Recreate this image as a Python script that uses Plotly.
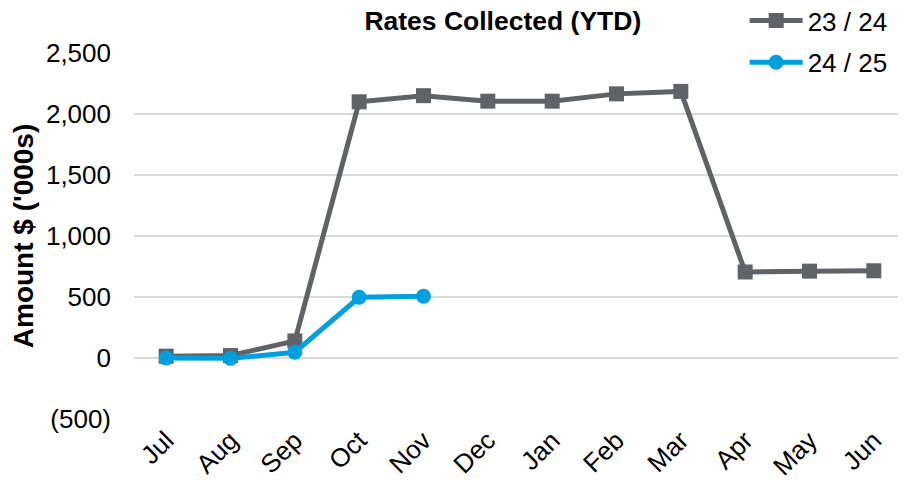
"""Rates Collected (YTD) line chart."""

import plotly.graph_objects as go

# Colours
GREY = "#5f6368"
BLUE = "#009fdf"
GRID = "#d9d9d9"
FONT = "Arial, Liberation Sans, sans-serif"

# Data
months = ["Jul", "Aug", "Sep", "Oct", "Nov", "Dec",
          "Jan", "Feb", "Mar", "Apr", "May", "Jun"]
fy_2324 = [15, 20, 140, 2100, 2150, 2105, 2105, 2165, 2185, 705, 712, 715]
fy_2425 = [0, -3, 47, 498, 506]

tick_vals = [-500, 0, 500, 1000, 1500, 2000, 2500]
tick_text = ["(500)", "0", "500", "1,000", "1,500", "2,000", "2,500"]

fig = go.Figure()

fig.add_trace(
    go.Scatter(
        x=months,
        y=fy_2324,
        name="23 / 24",
        legendgroup="a",
        mode="lines+markers",
        line=dict(color=GREY, width=5),
        marker=dict(symbol="square", size=15, color=GREY),
    )
)

fig.add_trace(
    go.Scatter(
        x=months[:len(fy_2425)],
        y=fy_2425,
        name="24 / 25",
        legendgroup="b",
        mode="lines+markers",
        line=dict(color=BLUE, width=5),
        marker=dict(symbol="circle", size=15, color=BLUE),
    )
)

# page body adds 8px, so the figure is 8px smaller and margins shifted
fig.update_layout(
    width=898,
    height=480,
    margin=dict(l=126, r=0, t=45, b=69, autoexpand=False),
    plot_bgcolor="white",
    paper_bgcolor="white",
    font=dict(family=FONT, size=26, color="black"),
    title=dict(
        text="<b>Rates Collected (YTD)</b>",
        font=dict(family=FONT, size=26.5, color="black"),
        x=0.551,
        xanchor="center",
        y=0.974,
        yanchor="middle",
    ),
    legend=dict(
        x=0.791,
        y=1.153,
        xanchor="left",
        yanchor="top",
        font=dict(family=FONT, size=26, color="black"),
        bgcolor="rgba(0,0,0,0)",
        traceorder="grouped",
        tracegroupgap=5,
        itemwidth=53,
    ),
    showlegend=True,
)

fig.update_xaxes(
    type="category",
    tickangle=-45,
    showgrid=False,
    showline=False,
    ticks="",
    tickfont=dict(family=FONT, size=26, color="black"),
    range=[-0.5, 11.5],
)

fig.update_yaxes(
    range=[-500, 2500],
    tickvals=tick_vals,
    ticktext=tick_text,
    showgrid=True,
    gridcolor=GRID,
    gridwidth=1.5,
    zeroline=False,
    showline=False,
    ticks="",
    ticklabelstandoff=22,
    tickfont=dict(family=FONT, size=26, color="black"),
    title=dict(
        text="<b>Amount $ ('000s)</b>",
        font=dict(family=FONT, size=28, color="black"),
        standoff=6,
    ),
)

fig.write_html("out.html")
